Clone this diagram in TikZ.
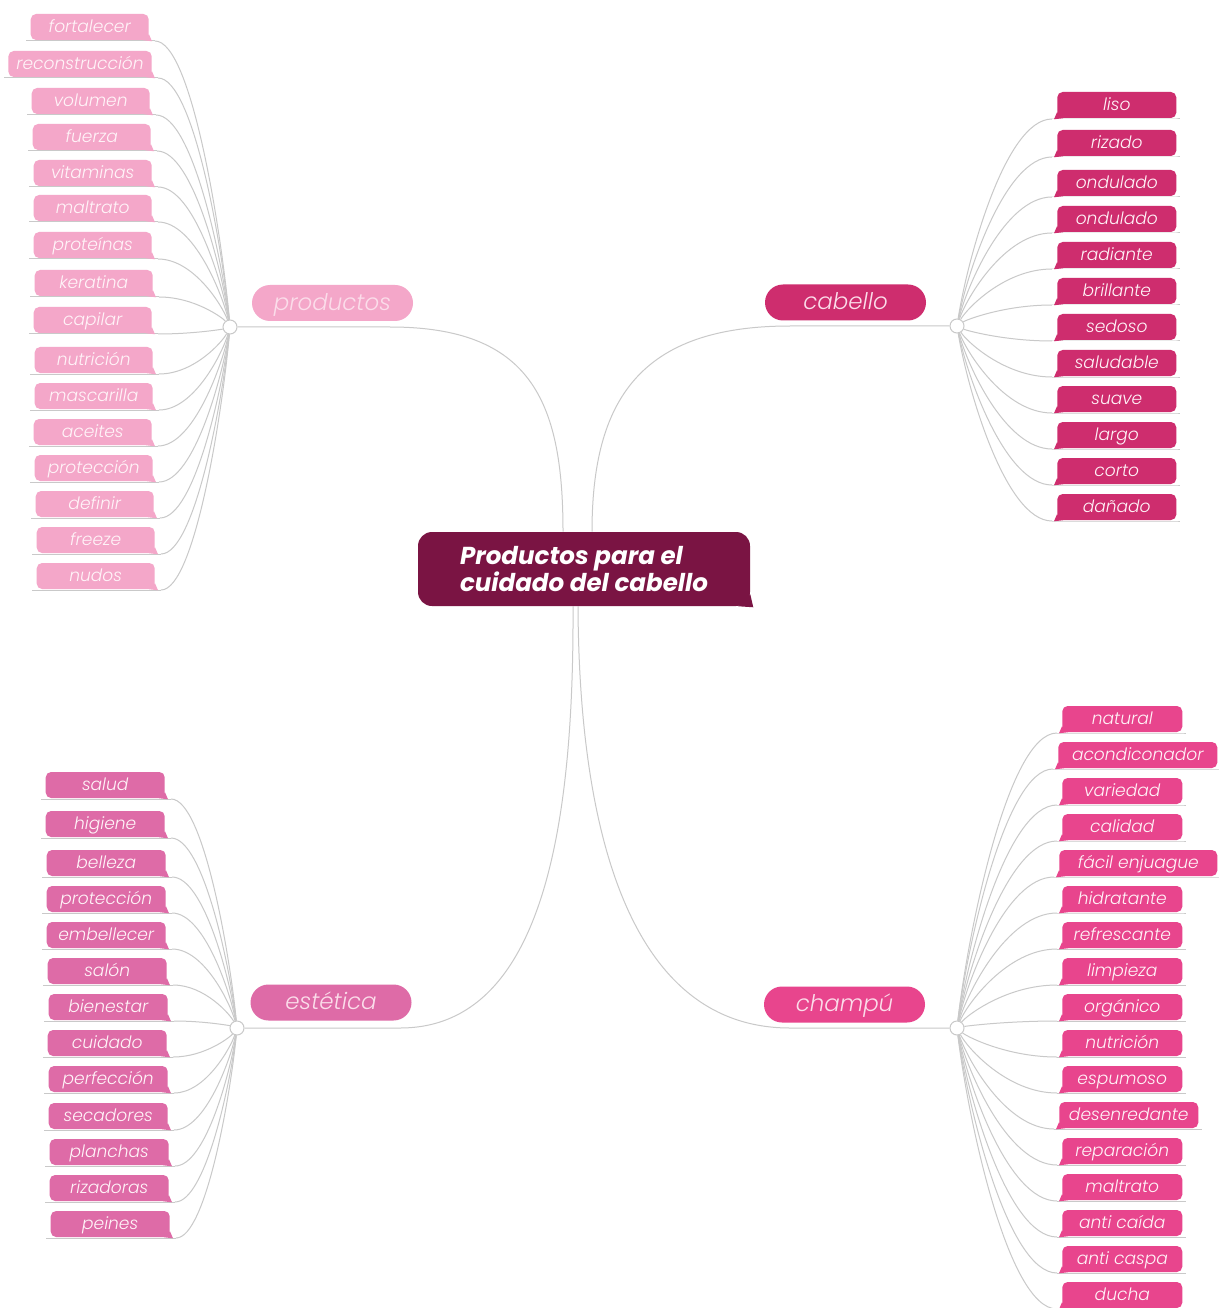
\documentclass[tikz,border=0pt]{standalone}
\usepackage{fontspec}
\setmainfont{Poppins}
\newfontfamily\leaffont{Poppins Light Italic}
\pgfdeclarelayer{bg}
\pgfsetlayers{bg,main}
\definecolor{rootc}{HTML}{7A1443}
\definecolor{cabc}{HTML}{CE2D6E}
\definecolor{chac}{HTML}{E8458D}
\definecolor{estc}{HTML}{DE6BA7}
\definecolor{proc}{HTML}{F4A7C9}
\definecolor{linec}{HTML}{C9C9C9}
\definecolor{mtext}{HTML}{FBDDEA}
\definecolor{ltext}{HTML}{FFF4F8}
\tikzset{
  leaf/.style={inner xsep=6pt, inner ysep=0pt, minimum height=19.5pt, rounded corners=4pt,
    font=\leaffont\fontsize{12.8}{14}\selectfont, text=ltext, text height=11pt, text depth=2.4pt},
  mid/.style={rounded corners=13.5pt, minimum width=120.75pt, minimum height=27pt, inner sep=0pt,
    font=\leaffont\fontsize{17.2}{20}\selectfont, text=mtext, text height=14pt, text depth=3pt},
  rootbox/.style={fill=rootc, rounded corners=10.5pt, minimum width=249pt, minimum height=55.5pt,
    align=left, text=white, inner sep=0pt, font=\bfseries\itshape\fontsize{18.4}{18.75}\selectfont},
  uline/.style={draw=linec, line width=0.75pt},
  conn/.style={draw=linec, line width=0.75pt},
  junc/.style={circle, draw=linec, fill=white, minimum size=10.5pt, inner sep=0pt, line width=0.75pt},
}
\newcommand\leafL[5][88.5pt]{%
  \node[leaf, fill=\LC, minimum width=#1, anchor=east] (#2) at (#5,#4) {#3};
  \fill[\LC] (#2.south east) ++(-6,0) -- ++(6,-6) -- ++(3,7) -- cycle;
  \pgfmathsetmacro\ux{#5+6}\pgfmathsetmacro\uy{#4+14}
  \coordinate (#2-u) at (\ux,\uy);
  \pgfmathsetmacro\cax{\ux+0.5*(\JX-\ux)}
  \pgfmathsetmacro\cbx{\JX-0.1*(\JX-\ux)}
  \pgfmathsetmacro\cby{\JY+0.3*(\uy-\JY)}
  \begin{pgfonlayer}{bg}
  \draw[uline] (#2.west |- #2-u) ++(-4,0) -- (#2-u);
  \draw[conn] (#2-u) .. controls (\cax,\uy) and (\cbx,\cby) .. (\JN);
  \end{pgfonlayer}
}
\newcommand\leafR[5][88.5pt]{%
  \node[leaf, fill=\LC, minimum width=#1, anchor=west] (#2) at (#5,#4) {#3};
  \fill[\LC] (#2.south west) ++(6,0) -- ++(-6,-6) -- ++(-3,7) -- cycle;
  \pgfmathsetmacro\ux{#5-5}\pgfmathsetmacro\uy{#4+14}
  \coordinate (#2-u) at (\ux,\uy);
  \pgfmathsetmacro\cax{\ux-0.5*(\ux-\JX)}
  \pgfmathsetmacro\cbx{\JX+0.1*(\ux-\JX)}
  \pgfmathsetmacro\cby{\JY+0.3*(\uy-\JY)}
  \begin{pgfonlayer}{bg}
  \draw[uline] (#2-u) -- (#2.east |- #2-u) -- ++(3,0);
  \draw[conn] (#2-u) .. controls (\cax,\uy) and (\cbx,\cby) .. (\JN);
  \end{pgfonlayer}
}
\begin{document}
\begin{tikzpicture}[x=0.75pt,y=-0.75pt]
\useasboundingbox (0,0) rectangle (1218,1308);
\begin{pgfonlayer}{bg}
\fill[white] (0,0) rectangle (1218,1308);
\end{pgfonlayer}

% root
\node[rootbox] (root) at (584,569) {Productos para el\\cuidado del cabello};
\fill[rootc] (root.south east) ++(-12,0) -- ++(12,-12) -- ++(3,13) -- cycle;

% main topics
\node[mid, fill=proc] (prod) at (332.5,303) {productos};
\node[mid, fill=cabc] (cab) at (845.5,302.5) {cabello};
\node[mid, fill=estc] (est) at (331,1002.5) {estética};
\node[mid, fill=chac] (cha) at (844.5,1004.5) {champú};

% junctions
\node[junc] (jp) at (230,327) {};
\node[junc] (jc) at (957,326) {};
\node[junc] (je) at (237,1028) {};
\node[junc] (jh) at (957,1028) {};

\begin{pgfonlayer}{bg}
\draw[conn] (jp.east) -- (390,327) .. controls (530,327) and (563,400) .. ([xshift=-15.75pt]root.north);
\draw[conn] (jc.west) -- (790,326) .. controls (640,326) and (592,400) .. ([xshift=6pt]root.north);
\draw[conn] (je.east) -- (400,1028) .. controls (545,1028) and (574,820) .. ([xshift=-8.25pt]root.south);
\draw[conn] (jh.west) -- (790,1028) .. controls (625,1028) and (579,820) .. ([xshift=-4.5pt]root.south);
\end{pgfonlayer}

% productos
\def\LC{proc}\def\JX{230}\def\JY{327}\def\JN{jp}
\leafL{p1}{fortalecer}{27}{149}
\leafL{p2}{reconstrucción}{64}{152}
\leafL{p3}{volumen}{101}{150}
\leafL{p4}{fuerza}{137}{151}
\leafL{p5}{vitaminas}{173}{152}
\leafL{p6}{maltrato}{208}{152}
\leafL{p7}{proteínas}{245}{152}
\leafL{p8}{keratina}{283}{153}
\leafL{p9}{capilar}{320}{152}
\leafL{p10}{nutrición}{360}{153}
\leafL{p11}{mascarilla}{396}{153}
\leafL{p12}{aceites}{432}{152}
\leafL{p13}{protección}{468}{153}
\leafL{p14}{definir}{504}{154}
\leafL{p15}{freeze}{540}{155}
\leafL{p16}{nudos}{576}{155}

% estetica
\def\LC{estc}\def\JX{237}\def\JY{1028}\def\JN{je}
\leafL[89.25pt]{e1}{salud}{785}{165}
\leafL[89.25pt]{e2}{higiene}{824}{165}
\leafL[89.25pt]{e3}{belleza}{863}{166}
\leafL[89.25pt]{e4}{protección}{899}{166}
\leafL[89.25pt]{e5}{embellecer}{935}{166}
\leafL[89.25pt]{e6}{salón}{971}{167}
\leafL[89.25pt]{e7}{bienestar}{1007}{168}
\leafL[89.25pt]{e8}{cuidado}{1043}{167}
\leafL[89.25pt]{e9}{perfección}{1079}{168}
\leafL[89.25pt]{e10}{secadores}{1116}{168}
\leafL[89.25pt]{e11}{planchas}{1152}{169}
\leafL[89.25pt]{e12}{rizadoras}{1188}{169}
\leafL[89.25pt]{e13}{peines}{1224}{170}

% cabello
\def\LC{cabc}\def\JX{957}\def\JY{326}\def\JN{jc}
\leafR[89.25pt]{c1}{liso}{105}{1057}
\leafR[89.25pt]{c2}{rizado}{143}{1057}
\leafR[89.25pt]{c3}{ondulado}{183}{1057}
\leafR[89.25pt]{c4}{ondulado}{219}{1057}
\leafR[89.25pt]{c5}{radiante}{255}{1057}
\leafR[89.25pt]{c6}{brillante}{291}{1057}
\leafR[89.25pt]{c7}{sedoso}{327}{1057}
\leafR[89.25pt]{c8}{saludable}{363}{1057}
\leafR[89.25pt]{c9}{suave}{399}{1057}
\leafR[89.25pt]{c10}{largo}{435}{1057}
\leafR[89.25pt]{c11}{corto}{471}{1057}
\leafR[89.25pt]{c12}{dañado}{507}{1057}

% champu
\def\LC{chac}\def\JX{957}\def\JY{1028}\def\JN{jh}
\leafR[90pt]{h1}{natural}{719}{1062}
\leafR[119.25pt]{h2}{acondiconador}{755}{1058}
\leafR[90pt]{h3}{variedad}{791}{1062}
\leafR[90pt]{h4}{calidad}{827}{1062}
\leafR[118.5pt]{h5}{fácil enjuague}{863}{1059}
\leafR[90pt]{h6}{hidratante}{899}{1062}
\leafR[90pt]{h7}{refrescante}{935}{1062}
\leafR[90pt]{h8}{limpieza}{971}{1062}
\leafR[90pt]{h9}{orgánico}{1007}{1062}
\leafR[90pt]{h10}{nutrición}{1043}{1062}
\leafR[90pt]{h11}{espumoso}{1079}{1062}
\leafR[104.25pt]{h12}{desenredante}{1115}{1059}
\leafR[90pt]{h13}{reparación}{1151}{1062}
\leafR[90pt]{h14}{maltrato}{1187}{1062}
\leafR[90pt]{h15}{anti caída}{1223}{1062}
\leafR[90pt]{h16}{anti caspa}{1259}{1062}
\leafR[90pt]{h17}{ducha}{1295}{1062}
\end{tikzpicture}
\end{document}
